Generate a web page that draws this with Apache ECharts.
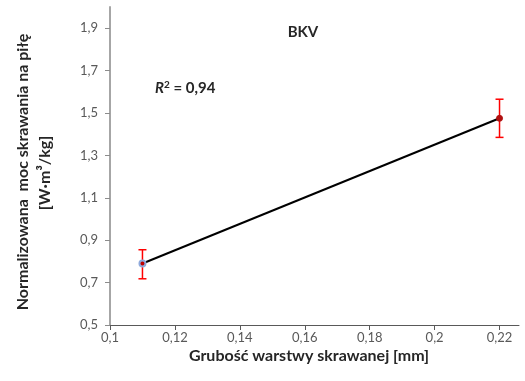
<!DOCTYPE html>
<html>
<head>
<meta charset="utf-8">
<script src="https://cdn.jsdelivr.net/npm/echarts@6/dist/echarts.min.js"></script>
<style>
  html, body { margin: 0; padding: 0; background: #fff; }
  #chart { width: 525px; height: 381px; }
</style>
</head>
<body>
<div id="chart"></div>
<script>
// grubość warstwy [mm] i moc [W·m3/kg]
const thickness = [0.11, 0.22]
const power = [0.79, 1.475]
const errLow = [0.718, 1.385]
const errHigh = [0.855, 1.565]

const font = 'Lato, "Open Sans", sans-serif'
const comma = v => String(+v.toFixed(2)).replace('.', ',')

const lineData = thickness.map((x, i) => ({
  value: [x, power[i]],
  itemStyle: i === 0
    ? { color: '#c00000', borderColor: '#8faadc', borderWidth: 2 }
    : { color: '#b01010', borderColor: '#b01010', borderWidth: 1 }
}))
const errData = thickness.map((x, i) => [x, errLow[i], errHigh[i]])

const chart = echarts.init(document.getElementById('chart'))
chart.setOption({
  animation: false,
  grid: { left: 110, right: 6, top: 7, bottom: 56 },
  xAxis: {
    type: 'value',
    min: 0.1,
    max: 0.226,
    interval: 0.02,
    splitLine: { show: false },
    axisLine: { lineStyle: { color: '#595959', width: 1 } },
    axisTick: { show: true, length: 5, lineStyle: { color: '#595959' } },
    axisLabel: {
      showMaxLabel: false,
      margin: 6,
      color: '#595959',
      fontFamily: font,
      fontSize: 13,
      formatter: comma
    }
  },
  yAxis: {
    type: 'value',
    min: 0.5,
    max: 2.0,
    interval: 0.2,
    splitLine: { show: false },
    axisLine: { show: true, lineStyle: { color: '#a6a6a6', width: 2 } },
    axisTick: { show: true, length: 5, lineStyle: { color: '#8c8c8c' } },
    axisLabel: {
      showMaxLabel: false,
      margin: 12,
      color: '#595959',
      fontFamily: font,
      fontSize: 13,
      formatter: comma
    }
  },
  graphic: [
    {
      type: 'text',
      x: 23, y: 172,
      rotation: Math.PI / 2,
      style: {
        text: 'Normalizowana  moc skrawania na piłę',
        fontFamily: font, fontWeight: 'bold', fontSize: 16,
        fill: '#262626', align: 'center', verticalAlign: 'middle'
      }
    },
    {
      type: 'text',
      x: 45, y: 173,
      rotation: Math.PI / 2,
      style: {
        text: '[W·m³/kg]',
        fontFamily: font, fontWeight: 'bold', fontSize: 16,
        fill: '#262626', align: 'center', verticalAlign: 'middle'
      }
    },
    {
      type: 'text',
      x: 309, y: 356,
      style: {
        text: 'Grubość warstwy skrawanej [mm]',
        fontFamily: font, fontWeight: 'bold', fontSize: 16,
        fill: '#262626', align: 'center', verticalAlign: 'middle'
      }
    },
    {
      type: 'text',
      x: 303, y: 32,
      style: {
        text: 'BKV',
        fontFamily: font, fontWeight: 'bold', fontSize: 15,
        fill: '#262626', align: 'center', verticalAlign: 'middle'
      }
    },
    {
      type: 'text',
      x: 155, y: 88,
      style: {
        text: '{r|R}{s|2}{t| = 0,94}',
        verticalAlign: 'middle',
        rich: {
          r: { fontFamily: font, fontWeight: 'bold', fontStyle: 'italic', fontSize: 15, fill: '#262626' },
          s: { fontFamily: font, fontWeight: 'bold', fontSize: 10, fill: '#262626', verticalAlign: 'top', padding: [0, 0, 6, 0] },
          t: { fontFamily: font, fontWeight: 'bold', fontSize: 15, fill: '#262626' }
        }
      }
    }
  ],
  series: [
    {
      type: 'line',
      data: lineData,
      symbol: 'circle',
      symbolSize: 6,
      lineStyle: { color: '#000', width: 2 },
      z: 3
    },
    {
      type: 'custom',
      data: errData,
      z: 2,
      renderItem: (params, api) => {
        const x = api.value(0)
        const lo = api.coord([x, api.value(1)])
        const hi = api.coord([x, api.value(2)])
        const w = 4
        const st = { stroke: '#ff0000', lineWidth: 1.5 }
        return {
          type: 'group',
          children: [
            { type: 'line', shape: { x1: lo[0], y1: lo[1], x2: hi[0], y2: hi[1] }, style: st },
            { type: 'line', shape: { x1: lo[0] - w, y1: lo[1], x2: lo[0] + w, y2: lo[1] }, style: st },
            { type: 'line', shape: { x1: hi[0] - w, y1: hi[1], x2: hi[0] + w, y2: hi[1] }, style: st }
          ]
        }
      }
    }
  ]
})
</script>
</body>
</html>
